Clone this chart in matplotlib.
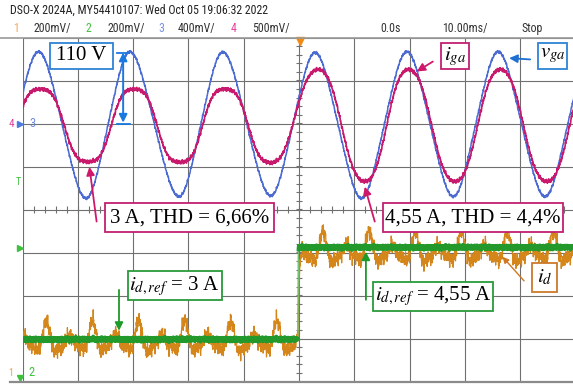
"""Oscilloscope capture: grid current/voltage and d-axis current step (DSO-X 2024A).

Screen is 10 div x 8 div, 10 ms/div, trigger at t = 0.  All trace values are
kept in screen divisions, read off the original capture.
"""

import matplotlib
matplotlib.use("Agg")
import matplotlib.pyplot as plt
import numpy as np
from matplotlib import font_manager
from matplotlib.patches import Rectangle

# ---------------- screen ----------------
T_LEFT, T_RIGHT = -50.0, 50.0      # ms
DIV_LOW, DIV_HIGH = -4.0, 4.0
GRID_FREQ = 60.0                   # Hz

# ---------------- v_ga (channel 3): extrema, ms / div ----------------
VGA_T = [-55.4, -47.1, -38.5, -30.6, -21.7, -13.8, -5.1, 2.9, 11.3, 19.5, 27.9, 36.0, 44.5, 52.7]
VGA_Y = [0.28, 3.67, 0.26, 3.67, 0.30, 3.66, 0.32, 3.65, 0.26, 3.67, 0.30, 3.67, 0.30, 3.67]
VGA_FLAT = [-0.03] * 13

# ---------------- i_ga (channel 4): extrema, ms / div ----------------
IGA_T = [-55.2, -46.8, -38.1, -29.8, -21.5, -13.4, -4.9, 3.5, 11.9, 19.8, 28.2, 36.4, 44.8, 53.1]
IGA_Y = [1.10, 2.80, 1.11, 2.80, 1.10, 2.80, 1.09, 3.26, 0.65, 3.26, 0.65, 3.26, 0.65, 3.26]
IGA_FLAT = [0.09] * 6 + [0.04] * 7

# ---------------- i_d (ch 1) and i_d,ref (ch 2) ----------------
STEP_T = -0.2                      # ms
IDREF_LEVELS = [-3.02, -0.88]      # div, before / after
ID_LEVELS = [-3.06, -0.98]
ID_TAU = 0.25                      # ms
# ripple on i_d, harmonics of the grid frequency
RIPPLE_ORDER = [2, 4, 6, 8]
RIPPLE_AMP = [0.08, 0.24, 0.08, 0.08]
RIPPLE_PHASE = [0.9, 2.17, 3.3, 4.35]
RIPPLE_REF_T = -47.1
# switching fuzz: cycles per ms, div
FUZZ_FREQ = [1.93, 3.17, 4.71, 7.33, 9.87, 13.1]
FUZZ_AMP = [0.045, 0.04, 0.035, 0.03, 0.03, 0.025]
FUZZ_PHASE = [0.3, 1.7, 2.9, 0.8, 4.1, 5.2]

# colours
C_BLUE = "#4b6bd3"
C_PINK = "#c8196c"
C_ORANGE = "#d4861a"
C_GREEN = "#22992a"
C_GRID = "#707070"


def half_cycles(t, ext_t, ext_y, flat):
    """Join successive extrema with a (optionally flattened) half sine."""
    y = np.full_like(t, np.nan)
    for i in range(len(ext_t) - 1):
        m = (t >= ext_t[i]) & (t <= ext_t[i + 1])
        u = (t[m] - ext_t[i]) / (ext_t[i + 1] - ext_t[i])
        th = np.pi * (u - 0.5)
        k = flat[i]
        s = (np.sin(th) + k * np.sin(3 * th)) / (1 - k)
        y[m] = ext_y[i] + (ext_y[i + 1] - ext_y[i]) * (s + 1) / 2
    return y


def fuzz(t, scale):
    out = np.zeros_like(t)
    for f, a, p in zip(FUZZ_FREQ, FUZZ_AMP, FUZZ_PHASE):
        out += scale * a * np.sin(2 * np.pi * f * t + p)
    return out


def step(t, levels, tau):
    before, after = levels
    dt = np.clip(t - STEP_T, 0, None)
    return np.where(t < STEP_T, before, after - (after - before) * np.exp(-dt / tau))


def pick_font(names, default="DejaVu Sans"):
    for n in names:
        try:
            font_manager.findfont(n, fallback_to_default=False)
            return n
        except ValueError:
            pass
    return default


plt.rcParams["mathtext.fontset"] = "stix"
SERIF = "Liberation Serif"
NARROW = pick_font(["Liberation Sans Narrow", "DejaVu Sans Condensed", "Roboto Condensed"])
HEAD_SIZE = 8.6 if NARROW != "DejaVu Sans" else 7.2
if NARROW == "DejaVu Sans":
    NARROW = "Roboto"

fig = plt.figure(figsize=(5.73, 3.85), dpi=100)
ax = fig.add_axes([22.5 / 573, 3.5 / 385, 553 / 573, 344 / 385])
ax.set_xlim(T_LEFT, T_RIGHT)
ax.set_ylim(DIV_LOW, DIV_HIGH)
ax.set_axis_off()

# ---------------- graticule ----------------
for xv in np.arange(-50, 51, 10):
    ax.axvline(xv, color=C_GRID, lw=0.8, zorder=1)
for yv in np.arange(-4, 5, 1):
    ax.axhline(yv, color=C_GRID, lw=0.8, zorder=1)
minor_y = np.arange(-4, 4.01, 0.2)
minor_x = np.arange(-50, 50.1, 2)
ax.hlines(minor_y, -0.55, 0.55, color=C_GRID, lw=0.8, zorder=1)
ax.vlines(minor_x, -0.07, 0.07, color=C_GRID, lw=0.8, zorder=1)

# ---------------- traces ----------------
t = np.linspace(T_LEFT, T_RIGHT, 6000)
vga = half_cycles(t, VGA_T, VGA_Y, VGA_FLAT) + fuzz(t, 0.25)
iga = half_cycles(t, IGA_T, IGA_Y, IGA_FLAT) + fuzz(t, 0.35)

ripple = np.zeros_like(t)
for n, a, p in zip(RIPPLE_ORDER, RIPPLE_AMP, RIPPLE_PHASE):
    ripple += a * np.cos(2 * np.pi * n * GRID_FREQ * (t - RIPPLE_REF_T) / 1000 - p)
i_d = step(t, ID_LEVELS, ID_TAU) + ripple + fuzz(t, 1.4)
i_dref = step(t, IDREF_LEVELS, 0.03) + fuzz(t, 0.35)
flat_part = np.abs(t - STEP_T) > 0.12

ax.plot(t, vga, color=C_BLUE, lw=1.1, zorder=3)
ax.plot(t, iga, color=C_PINK, lw=1.2, zorder=4)
ax.plot(t, i_d, color=C_ORANGE, lw=0.9, zorder=3)
ax.plot(t, i_dref, color="#6cc06c", lw=1.0, zorder=4)
ax.plot(t, np.where(flat_part, i_dref, np.nan), color=C_GREEN, lw=2.8, zorder=4)

# ---------------- labels ----------------
def box(t0, t1, d0, d1, color, text):
    ax.add_patch(Rectangle((t0, d0), t1 - t0, d1 - d0, facecolor="white",
                           edgecolor=color, lw=1.3, zorder=6))
    ax.text((t0 + t1) / 2, (d0 + d1) / 2, text, ha="center", va="center",
            fontsize=15, family=SERIF, color="black", zorder=7)


def arrow(tail, head, color, lw=1.3, scale=12):
    ax.annotate("", xy=head, xytext=tail, zorder=8,
                arrowprops=dict(arrowstyle="-|>", color=color, lw=lw,
                                mutation_scale=scale, shrinkA=0, shrinkB=0))


box(-45.0, -33.6, 3.26, 3.88, "#2f82d4", "110 V")
box(-35.1, -4.5, -0.52, 0.14, "#c02070", "3 A, THD = 6,66%")
box(15.1, 47.8, -0.52, 0.14, "#c02070", "4,55 A, THD = 4,4%")
box(25.6, 30.8, 3.26, 3.87, "#c02070", r"$i_{ga}$")
box(43.3, 48.5, 3.26, 3.88, "#2f82d4", r"$v_{ga}$")
box(-31.0, -13.9, -2.11, -1.43, "#2a9a3a", r"$i_{d,ref}$ = 3 A")
box(13.4, 35.1, -2.35, -1.69, "#2a9a3a", r"$i_{d,ref}$ = 4,55 A")
box(42.1, 46.6, -1.91, -1.24, "#cc7a2a", r"$i_d$")

# 110 V dimension arrow
ax.annotate("", xy=(-31.8, 3.65), xytext=(-31.8, 2.02), zorder=8,
            arrowprops=dict(arrowstyle="<|-|>", color="#1a78e0", lw=1.4,
                            mutation_scale=12, shrinkA=0, shrinkB=0))
ax.plot([-33.0, -30.9], [3.65, 3.65], color="#1a78e0", lw=1.3, zorder=8)
ax.plot([-33.0, -30.6], [2.0, 2.0], color="#1a78e0", lw=1.3, zorder=8)

arrow((-36.6, -0.28), (-37.9, 0.99), "#d0186a")
arrow((13.7, -0.28), (11.9, 0.53), "#d0186a")
arrow((24.2, 3.44), (21.3, 3.21), "#d0186a")
arrow((41.8, 3.49), (38.0, 3.52), "#1f6fd0")
arrow((-32.55, -1.87), (-32.55, -2.82), "#1e9a28")
arrow((12.1, -2.10), (12.1, -0.98), "#1e9a28")
arrow((40.7, -1.66), (36.8, -1.10), "#d07820", lw=1.0, scale=9)

# ---------------- channel markers ----------------
ax.text(-48.8, 2.0, "3", color="#6f8be0", fontsize=9, ha="left", va="center",
        family=NARROW, clip_on=False, zorder=5)
ax.text(-51.95, 2.0, "4", color="#e0409a", fontsize=8, ha="center", va="center",
        family=NARROW, clip_on=False, zorder=5)
ax.plot(-50.4, 2.0, marker=">", color="#4a7be0", ms=4, clip_on=False, zorder=5)
ax.text(-50.8, 0.64, "T", color="#3fc03f", fontsize=7, ha="center", va="center",
        family=NARROW, clip_on=False, zorder=5)
ax.plot(-50.45, -0.9, marker=">", color="#3fc03f", ms=4, clip_on=False, zorder=5)
ax.text(-48.9, -3.8, "2", color="#3fc03f", fontsize=9, ha="left", va="center",
        family=NARROW, clip_on=False, zorder=5)
ax.text(-52.2, -3.8, "1", color="#f0a040", fontsize=7, ha="center", va="center",
        family=NARROW, clip_on=False, zorder=5)
ax.plot(-50.4, -3.92, marker="v", color="#3fc03f", ms=4, clip_on=False, zorder=5)
ax.plot(0.1, 3.93, marker="v", color="#f08a10", ms=6, clip_on=False, zorder=9)

# ---------------- header ----------------
fig.add_artist(plt.Line2D([0, 1], [1 - 37.5 / 385] * 2, color="#9a9a9a", lw=1.2))
fig.add_artist(plt.Line2D([10 / 573, 1], [1 - 381.5 / 385] * 2, color="#8a8a8a", lw=1.6))

fig.text(10 / 573, 1 - 10 / 385, "DSO-X 2024A, MY54410107: Wed Oct 05 19:06:32 2022",
         fontsize=HEAD_SIZE, family=NARROW, color="#222222", va="center")
HEAD_ITEMS = [("1", 13, "#f5a855"), ("200mV/", 33, "#333333"),
              ("2", 85, "#44c044"), ("200mV/", 107, "#333333"),
              ("3", 158, "#7a90e8"), ("400mV/", 178, "#333333"),
              ("4", 231, "#e8409c"), ("500mV/", 252, "#333333"),
              ("0.0s", 380, "#333333"), ("10.00ms/", 442, "#333333"),
              ("Stop", 522, "#333333")]
for label, xp, col in HEAD_ITEMS:
    fig.text(xp / 573, 1 - 28.5 / 385, label, fontsize=HEAD_SIZE, family=NARROW,
             color=col, va="center")

fig.savefig("out.png", dpi=100)
